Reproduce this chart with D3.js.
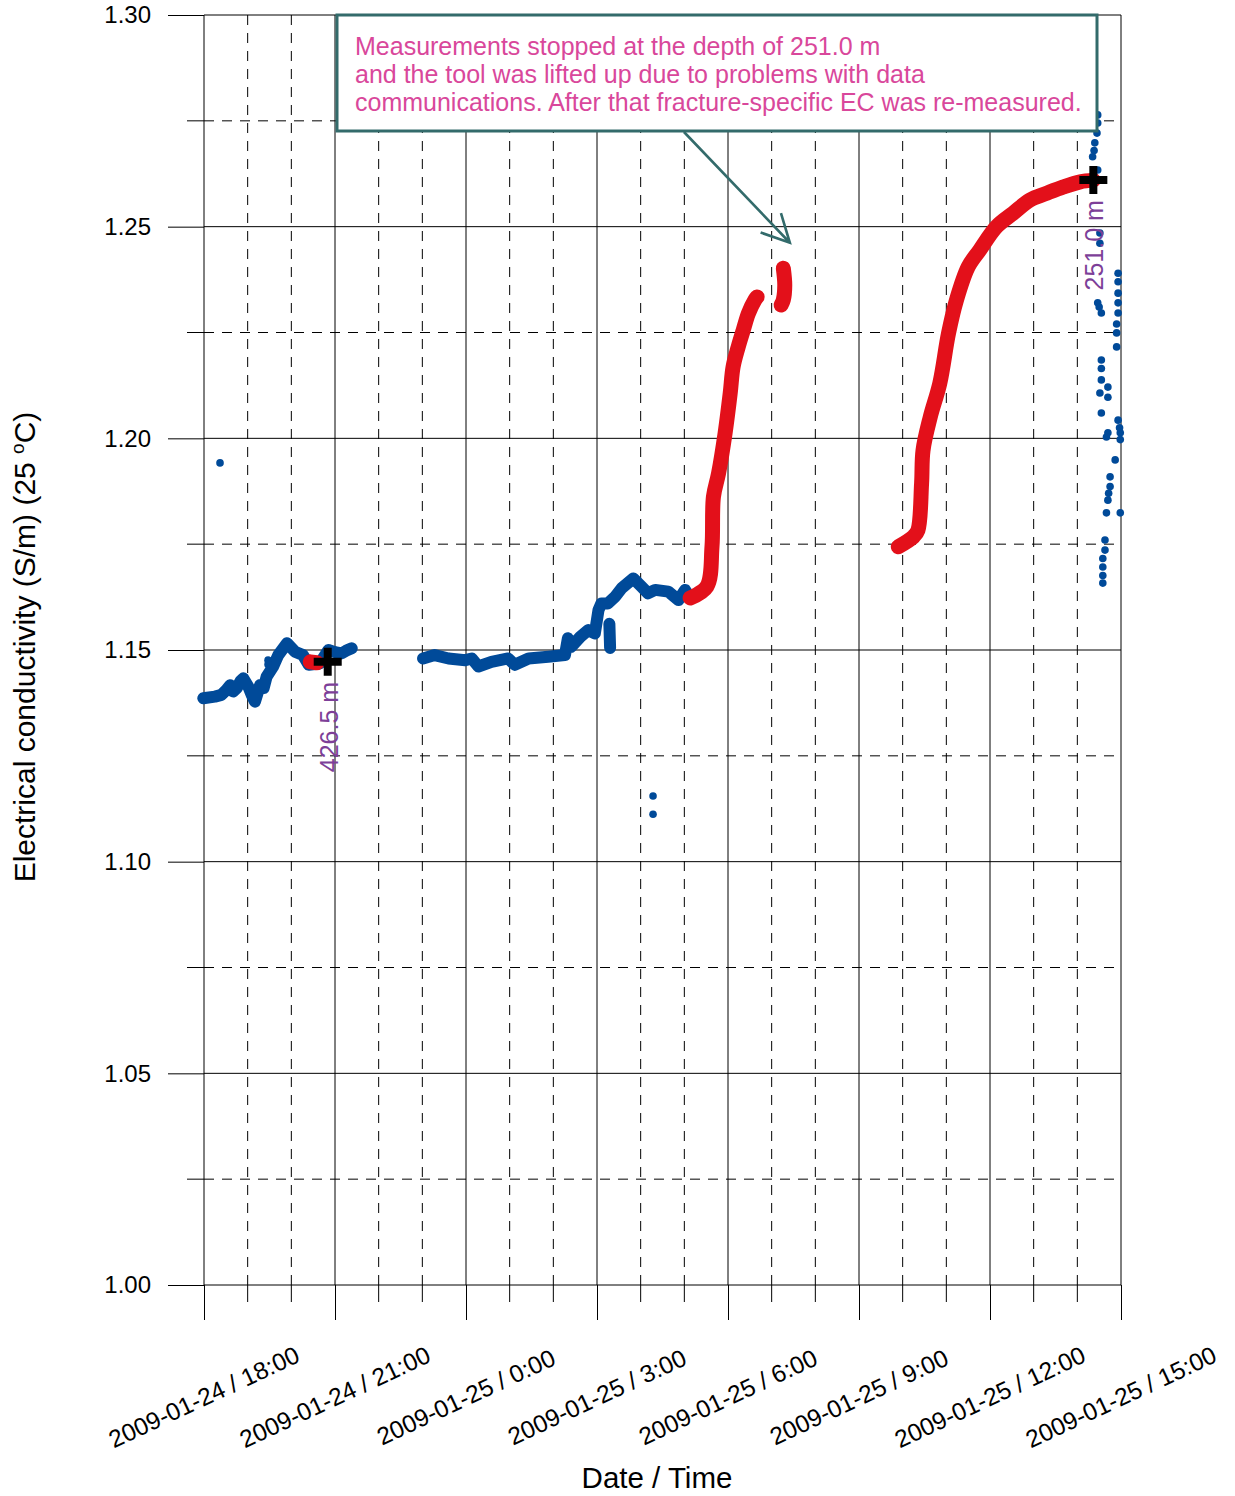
<!DOCTYPE html>
<html>
<head>
<meta charset="utf-8">
<script src="https://cdn.jsdelivr.net/npm/d3@7"></script>
<style>
  html, body { margin: 0; padding: 0; background: #ffffff; }
  svg { display: block; font-family: "Liberation Sans", Arial, sans-serif; }
</style>
</head>
<body>
<svg id="chart" width="1235" height="1496"></svg>
<script>
// ---- Data: EC logging, time vs electrical conductivity (S/m, 25 °C) ----
const xDomain = ["2009-01-24 18:00", "2009-01-25 15:00"];
const yDomain = [1.00, 1.30];
const yMajorTicks = [1.00, 1.05, 1.10, 1.15, 1.20, 1.25, 1.30];
const yMinorTicks = [1.025, 1.075, 1.125, 1.175, 1.225, 1.275];

// continuous blue logging runs [time, EC]
const blueRun1 = [
  ["2009-01-24 17:59", 1.1386], ["2009-01-24 18:15", 1.1390], ["2009-01-24 18:24", 1.1394],
  ["2009-01-24 18:31", 1.1406], ["2009-01-24 18:36", 1.1417], ["2009-01-24 18:40", 1.1402],
  ["2009-01-24 18:45", 1.1410], ["2009-01-24 18:50", 1.1426], ["2009-01-24 18:54", 1.1433],
  ["2009-01-24 19:01", 1.1413], ["2009-01-24 19:06", 1.1392], ["2009-01-24 19:10", 1.1378],
  ["2009-01-24 19:14", 1.1400], ["2009-01-24 19:17", 1.1417], ["2009-01-24 19:22", 1.1410],
  ["2009-01-24 19:26", 1.1437], ["2009-01-24 19:35", 1.1461], ["2009-01-24 19:42", 1.1488],
  ["2009-01-24 19:54", 1.1516], ["2009-01-24 20:05", 1.1496], ["2009-01-24 20:16", 1.1488],
  ["2009-01-24 20:24", 1.1465], ["2009-01-24 20:39", 1.1468], ["2009-01-24 20:51", 1.1500],
  ["2009-01-24 21:00", 1.1495], ["2009-01-24 21:09", 1.1492], ["2009-01-24 21:15", 1.1498],
  ["2009-01-24 21:23", 1.1504]
];
const blueRun2 = [
  ["2009-01-24 23:01", 1.1480], ["2009-01-24 23:17", 1.1488], ["2009-01-24 23:36", 1.1480],
  ["2009-01-24 23:59", 1.1476], ["2009-01-25 00:08", 1.1480], ["2009-01-25 00:17", 1.1461],
  ["2009-01-25 00:35", 1.1472], ["2009-01-25 00:58", 1.1480], ["2009-01-25 01:07", 1.1465],
  ["2009-01-25 01:26", 1.1480], ["2009-01-25 01:53", 1.1484], ["2009-01-25 02:16", 1.1488],
  ["2009-01-25 02:20", 1.1528], ["2009-01-25 02:25", 1.1508], ["2009-01-25 02:37", 1.1531],
  ["2009-01-25 02:48", 1.1547], ["2009-01-25 02:57", 1.1539], ["2009-01-25 03:02", 1.1594],
  ["2009-01-25 03:06", 1.1610], ["2009-01-25 03:15", 1.1610], ["2009-01-25 03:25", 1.1626],
  ["2009-01-25 03:34", 1.1646], ["2009-01-25 03:50", 1.1669], ["2009-01-25 04:01", 1.1650],
  ["2009-01-25 04:10", 1.1634], ["2009-01-25 04:20", 1.1642], ["2009-01-25 04:38", 1.1638],
  ["2009-01-25 04:52", 1.1618], ["2009-01-25 05:01", 1.1642], ["2009-01-25 05:08", 1.1623]
];
const blueDrop = [["2009-01-25 03:17", 1.1562], ["2009-01-25 03:18", 1.1505]];

// isolated blue readings
const blueDots = [
  ["2009-01-24 18:22", 1.1942], ["2009-01-24 19:28", 1.1476], ["2009-01-24 19:28", 1.1466],
  ["2009-01-25 04:17", 1.1155], ["2009-01-25 04:17", 1.1112],
  ["2009-01-25 14:28", 1.2764], ["2009-01-25 14:28", 1.2745], ["2009-01-25 14:27", 1.2721],
  ["2009-01-25 14:24", 1.2698], ["2009-01-25 14:23", 1.2680], ["2009-01-25 14:21", 1.2665],
  ["2009-01-25 14:28", 1.2634], ["2009-01-25 14:31", 1.2485], ["2009-01-25 14:31", 1.2461],
  ["2009-01-25 14:28", 1.2320], ["2009-01-25 14:30", 1.2310], ["2009-01-25 14:33", 1.2296],
  ["2009-01-25 14:56", 1.2390], ["2009-01-25 14:56", 1.2370], ["2009-01-25 14:56", 1.2343],
  ["2009-01-25 14:56", 1.2320], ["2009-01-25 14:56", 1.2296], ["2009-01-25 14:54", 1.2270],
  ["2009-01-25 14:54", 1.2249], ["2009-01-25 14:54", 1.2216], ["2009-01-25 14:33", 1.2185],
  ["2009-01-25 14:33", 1.2165], ["2009-01-25 14:33", 1.2138], ["2009-01-25 14:31", 1.2107],
  ["2009-01-25 14:42", 1.2121], ["2009-01-25 14:42", 1.2097], ["2009-01-25 14:33", 1.2060],
  ["2009-01-25 14:56", 1.2043], ["2009-01-25 14:59", 1.2013], ["2009-01-25 14:42", 1.2013],
  ["2009-01-25 14:40", 1.2003], ["2009-01-25 14:59", 1.1997], ["2009-01-25 14:58", 1.2025],
  ["2009-01-25 14:52", 1.1949], ["2009-01-25 14:45", 1.1909], ["2009-01-25 14:45", 1.1886],
  ["2009-01-25 14:43", 1.1870], ["2009-01-25 14:42", 1.1854], ["2009-01-25 14:59", 1.1824],
  ["2009-01-25 14:40", 1.1824], ["2009-01-25 14:38", 1.1760], ["2009-01-25 14:38", 1.1736],
  ["2009-01-25 14:35", 1.1716], ["2009-01-25 14:35", 1.1696], ["2009-01-25 14:35", 1.1676],
  ["2009-01-25 14:35", 1.1658]
];

// fracture-specific (stationary) red runs
const redRun1 = [["2009-01-24 20:26", 1.1472], ["2009-01-24 20:35", 1.1470]];
const redRun2 = [
  ["2009-01-25 05:08", 1.1623], ["2009-01-25 05:31", 1.1650], ["2009-01-25 05:38", 1.1744],
  ["2009-01-25 05:40", 1.1862], ["2009-01-25 05:47", 1.1917], ["2009-01-25 05:56", 1.2012],
  ["2009-01-25 06:03", 1.2106], ["2009-01-25 06:07", 1.2169], ["2009-01-25 06:14", 1.2216],
  ["2009-01-25 06:21", 1.2256], ["2009-01-25 06:28", 1.2295], ["2009-01-25 06:37", 1.2327],
  ["2009-01-25 06:40", 1.2334]
];
const redRun3 = [
  ["2009-01-25 07:16", 1.2402], ["2009-01-25 07:18", 1.2362], ["2009-01-25 07:16", 1.2327],
  ["2009-01-25 07:13", 1.2315]
];
const redRun4 = [
  ["2009-01-25 09:54", 1.1744], ["2009-01-25 10:15", 1.1768], ["2009-01-25 10:21", 1.1783],
  ["2009-01-25 10:26", 1.1894], ["2009-01-25 10:28", 1.1972], ["2009-01-25 10:38", 1.2051],
  ["2009-01-25 10:51", 1.2130], ["2009-01-25 11:03", 1.2248], ["2009-01-25 11:14", 1.2327],
  ["2009-01-25 11:30", 1.2405], ["2009-01-25 11:46", 1.2445], ["2009-01-25 12:09", 1.2500],
  ["2009-01-25 12:32", 1.2532], ["2009-01-25 12:55", 1.2563], ["2009-01-25 13:18", 1.2579],
  ["2009-01-25 13:41", 1.2594], ["2009-01-25 14:04", 1.2606], ["2009-01-25 14:22", 1.2610]
];

// measured fracture points with depth labels
const fractureTimes = ["2009-01-24 20:50", "2009-01-25 14:22"];
const fractureEC = [1.1472, 1.2610];
const fractureLabels = ["426.5 m", "251.0 m"];

const noteLines = [
  "Measurements stopped at the depth of 251.0 m",
  "and the tool was lifted up due to problems with data",
  "communications. After that fracture-specific EC was re-measured."
];
const noteTarget = ["2009-01-25 07:25", 1.2462];

// ---- Drawing ----
const parse = d3.timeParse("%Y-%m-%d %H:%M");
const svg = d3.select("#chart");
const plotLeft = 204, plotRight = 1121, plotTop = 15, plotBottom = 1285;

const x = d3.scaleTime().domain(xDomain.map(parse)).range([plotLeft, plotRight]);
const y = d3.scaleLinear().domain(yDomain).range([plotBottom, plotTop]);

const BLUE = "#004a99", RED = "#e3101a", PURPLE = "#7d3f98", PINK = "#d9479b", TEAL = "#336b6b";

const hours = d3.timeHour.range(x.domain()[0], d3.timeMinute.offset(x.domain()[1], 1));
const majorHours = hours.filter(d => d.getHours() % 3 === 0);
const minorHours = hours.filter(d => d.getHours() % 3 !== 0);

const grid = svg.append("g");
// horizontal grid
grid.selectAll(".hmaj").data(yMajorTicks).join("line")
  .attr("x1", plotLeft).attr("x2", plotRight)
  .attr("y1", d => y(d)).attr("y2", d => y(d))
  .attr("stroke", "#000").attr("stroke-width", 1);
grid.selectAll(".hmin").data(yMinorTicks).join("line")
  .attr("x1", plotLeft).attr("x2", plotRight)
  .attr("y1", d => y(d)).attr("y2", d => y(d))
  .attr("stroke", "#000").attr("stroke-width", 1).attr("stroke-dasharray", "10,8");
grid.selectAll(".hmint").data(yMinorTicks).join("line")
  .attr("x1", plotLeft - 17).attr("x2", plotLeft)
  .attr("y1", d => y(d)).attr("y2", d => y(d))
  .attr("stroke", "#000").attr("stroke-width", 1);
// vertical grid
grid.selectAll(".vmaj").data(majorHours).join("line")
  .attr("x1", d => x(d)).attr("x2", d => x(d))
  .attr("y1", plotTop).attr("y2", plotBottom)
  .attr("stroke", "#000").attr("stroke-width", 1);
grid.selectAll(".vmin").data(minorHours).join("line")
  .attr("x1", d => x(d)).attr("x2", d => x(d))
  .attr("y1", plotTop).attr("y2", plotBottom)
  .attr("stroke", "#000").attr("stroke-width", 1).attr("stroke-dasharray", "10,8");
grid.selectAll(".vmint").data(minorHours).join("line")
  .attr("x1", d => x(d)).attr("x2", d => x(d))
  .attr("y1", plotBottom).attr("y2", plotBottom + 17)
  .attr("stroke", "#000").attr("stroke-width", 1);

// axes (major ticks + labels)
const yAxis = d3.axisLeft(y).tickValues(yMajorTicks).tickSize(36).tickPadding(17)
  .tickFormat(d3.format(".2f"));
const gy = svg.append("g").attr("transform", `translate(${plotLeft},0)`).call(yAxis);
gy.select(".domain").remove();
gy.selectAll("text").attr("font-size", 24).attr("fill", "#000")
  .attr("font-family", "Liberation Sans, Arial, sans-serif");

const xAxis = d3.axisBottom(x).tickValues(majorHours).tickSize(35).tickFormat("");
const gx = svg.append("g").attr("transform", `translate(0,${plotBottom})`).call(xAxis);
gx.select(".domain").remove();

const fmt = d3.timeFormat("%Y-%m-%d / %-H:%M");
svg.append("g").selectAll("text").data(majorHours).join("text")
  .attr("transform", d => `translate(${x(d)},1397) rotate(-25)`)
  .attr("text-anchor", "middle").attr("dy", "0.35em")
  .attr("font-size", 24.5).attr("fill", "#000")
  .text(d => fmt(d));

// axis titles
svg.append("text").attr("x", 657).attr("y", 1488).attr("text-anchor", "middle")
  .attr("font-size", 29.5).attr("fill", "#000").text("Date / Time");
const yt = svg.append("text").attr("transform", "translate(35,647) rotate(-90)")
  .attr("text-anchor", "middle").attr("font-size", 30).attr("fill", "#000");
yt.append("tspan").text("Electrical conductivity (S/m) (25 ");
yt.append("tspan").attr("font-size", 19).attr("dy", -11).text("o");
yt.append("tspan").attr("dy", 11).text("C)");

// data
const line = d3.line().x(d => x(parse(d[0]))).y(d => y(d[1])).curve(d3.curveLinear);
const smooth = d3.line().x(d => x(parse(d[0]))).y(d => y(d[1])).curve(d3.curveCatmullRom.alpha(0.5));
const plot = svg.append("g");
[blueRun1, blueRun2, blueDrop].forEach(run => {
  plot.append("path").attr("d", line(run)).attr("fill", "none")
    .attr("stroke", BLUE).attr("stroke-width", 12)
    .attr("stroke-linecap", "round").attr("stroke-linejoin", "round");
});
plot.selectAll(".bd").data(blueDots).join("circle")
  .attr("cx", d => x(parse(d[0]))).attr("cy", d => y(d[1])).attr("r", 3.8)
  .attr("fill", BLUE);
[redRun1, redRun2, redRun3, redRun4].forEach(run => {
  plot.append("path").attr("d", smooth(run)).attr("fill", "none")
    .attr("stroke", RED).attr("stroke-width", 15)
    .attr("stroke-linecap", "round").attr("stroke-linejoin", "round");
});

// fracture markers and depth labels
fractureTimes.forEach((t, i) => {
  const px = x(parse(t)), py = y(fractureEC[i]);
  plot.append("path").attr("d", `M${px - 14},${py}H${px + 14}M${px},${py - 14}V${py + 14}`)
    .attr("stroke", "#000").attr("stroke-width", 8).attr("fill", "none");
  plot.append("text")
    .attr("transform", `translate(${px + 10},${py + 20}) rotate(-90)`)
    .attr("text-anchor", "end").attr("font-size", 25).attr("fill", PURPLE)
    .text(fractureLabels[i]);
});

// annotation
const note = svg.append("g");
note.append("rect").attr("x", 337).attr("y", 15).attr("width", 760).attr("height", 116)
  .attr("fill", "#fff").attr("stroke", TEAL).attr("stroke-width", 3);
const nt = note.append("text").attr("font-size", 25).attr("fill", PINK);
noteLines.forEach((s, i) => {
  nt.append("tspan").attr("x", 355).attr("y", 55 + i * 28).text(s);
});
const tipX = x(parse(noteTarget[0])), tipY = y(noteTarget[1]);
const startX = 684, startY = 132;
const ang = Math.atan2(tipY - startY, tipX - startX);
const head = 31, spread = 27 * Math.PI / 180;
const a1 = ang + Math.PI - spread, a2 = ang + Math.PI + spread;
note.append("path")
  .attr("d", `M${startX},${startY}L${tipX},${tipY}` +
    `M${tipX + head * Math.cos(a1)},${tipY + head * Math.sin(a1)}L${tipX},${tipY}` +
    `L${tipX + head * Math.cos(a2)},${tipY + head * Math.sin(a2)}`)
  .attr("fill", "none").attr("stroke", TEAL).attr("stroke-width", 2.6)
  .attr("stroke-linejoin", "miter");
</script>
</body>
</html>
